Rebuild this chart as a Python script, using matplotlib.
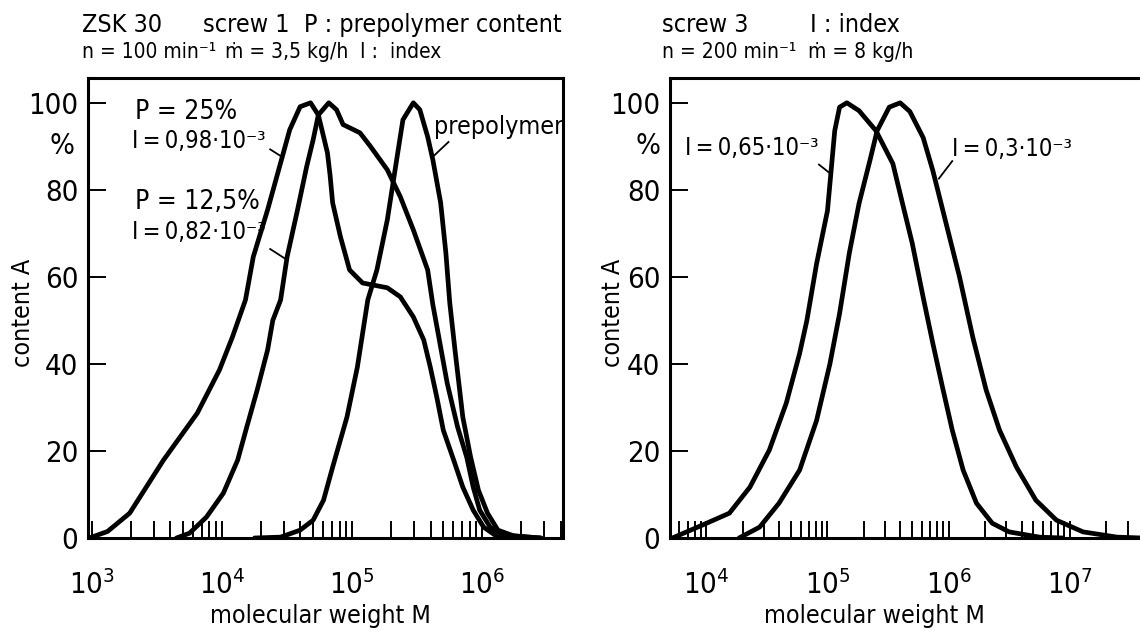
import matplotlib
matplotlib.use('Agg')
import matplotlib.pyplot as plt
import numpy as np
from matplotlib.ticker import LogLocator, FixedLocator, NullFormatter

# log10 of molecular weight M and content A (%) for each curve
# ZSK 30, screw 1
logm_p25 = [2.98, 3.12, 3.29, 3.55, 3.81, 3.98, 4.08, 4.18, 4.24, 4.35, 4.45, 4.52,
            4.60, 4.68, 4.74, 4.81, 4.83, 4.85, 4.91, 4.98, 5.08, 5.27, 5.37, 5.47,
            5.55, 5.60, 5.65, 5.70, 5.78, 5.85, 5.93, 6.01, 6.12, 6.25]
a_p25 = [0, 1.5, 5.7, 17.9, 28.7, 38.6, 46.2, 54.7, 64.6, 75.4, 86.2, 93.8,
         99.1, 100, 97.2, 88.5, 83.4, 77, 69.2, 61.6, 58.6, 57.5, 55.4, 50.8,
         45.5, 39.3, 32.4, 24.8, 17.9, 11.7, 6.4, 2.5, 0.2, 0]

logm_p125 = [3.65, 3.75, 3.88, 4.01, 4.12, 4.19, 4.27, 4.35, 4.39, 4.45, 4.50, 4.58,
             4.65, 4.70, 4.74, 4.82, 4.88, 4.93, 5.06, 5.14, 5.27, 5.37, 5.47, 5.58,
             5.62, 5.66, 5.73, 5.81, 5.88, 5.93, 5.98, 6.06, 6.16, 6.35, 6.45]
a_p125 = [0, 1.1, 4.8, 10.3, 17.9, 25.5, 34, 43.2, 50, 54.7, 64.6, 75.4,
          85.3, 91.5, 97.2, 100, 98.4, 95, 93.1, 90, 84.6, 78.4, 70.8, 61.6,
          53.6, 47.1, 35.6, 25.5, 18.6, 11.7, 6.4, 2.5, 0.7, 0.2, 0]

logm_pre = [4.25, 4.45, 4.60, 4.70, 4.78, 4.85, 4.96, 5.04, 5.12, 5.19, 5.27, 5.35,
            5.39, 5.47, 5.52, 5.58, 5.62, 5.68, 5.72, 5.75, 5.79, 5.85, 5.91, 5.97,
            6.04, 6.12, 6.24, 6.45]
a_pre = [0, 0.2, 1.8, 4.1, 8.7, 16.3, 27.8, 39.3, 54.7, 61.6, 73.1, 88.5,
         96.1, 100, 98.4, 92.2, 86.9, 77, 65.5, 54, 43.2, 27.8, 18.6, 11,
         5.7, 1.8, 0.5, 0]

# screw 3
logm_i065 = [3.72, 3.97, 4.19, 4.36, 4.52, 4.66, 4.77, 4.83, 4.91, 5.00, 5.03, 5.06,
             5.10, 5.16, 5.26, 5.40, 5.54, 5.62, 5.70, 5.79, 5.87, 5.95, 6.03, 6.12,
             6.23, 6.36, 6.50, 6.75, 6.94]
a_i065 = [0, 3, 5.7, 11.7, 20.2, 31, 42.4, 50, 63, 75.2, 84.4, 93.6,
          99, 100, 98.2, 93.6, 86, 76.8, 67.7, 55.3, 44.7, 34.6, 24.8, 15.6,
          8, 3.4, 1.4, 0.2, 0]

logm_i03 = [4.27, 4.44, 4.60, 4.77, 4.91, 5.02, 5.10, 5.18, 5.26, 5.35, 5.41, 5.51,
            5.60, 5.68, 5.79, 5.87, 5.98, 6.09, 6.20, 6.31, 6.42, 6.56, 6.72, 6.89,
            7.11, 7.39, 7.60]
a_i03 = [0, 2.5, 8, 15.6, 27, 40, 51.6, 65.4, 76.8, 86.7, 93.6, 99,
         100, 98, 92, 84.4, 72.2, 60, 46.1, 34, 24.8, 16.3, 8.7, 4.1,
         1.4, 0.2, 0]

y_ticks = [0, 20, 40, 60, 80, 100]

cond = 'DejaVu Sans:stretch=condensed'
plt.rcParams.update({
    'font.family': ['DejaVu Sans'],
    'font.stretch': 'condensed',
    'mathtext.fontset': 'custom',
    'mathtext.rm': cond,
    'mathtext.it': cond,
    'mathtext.bf': cond,
    'mathtext.sf': cond,
    'axes.linewidth': 2.2,
})

W, H = 1140, 631
fig = plt.figure(figsize=(W / 100, H / 100), dpi=100)
TS = '\u2009'  # thin space


def px_axes(x0, x1, y_top, y_bot):
    return fig.add_axes([x0 / W, 1 - y_bot / H, (x1 - x0) / W, (y_bot - y_top) / H])


def style(ax, xlim):
    ax.set_xscale('log')
    ax.set_xlim(*xlim)
    ax.set_ylim(0, 105.7)
    ax.xaxis.set_major_locator(LogLocator(base=10))
    ax.xaxis.set_minor_locator(LogLocator(base=10, subs=np.arange(2, 10)))
    ax.xaxis.set_minor_formatter(NullFormatter())
    ax.yaxis.set_major_locator(FixedLocator(y_ticks))
    ax.tick_params(axis='x', which='both', direction='in', length=12, width=1.4,
                   labelsize=21, pad=23)
    ax.tick_params(axis='y', direction='in', length=13, width=1.4, labelsize=21, pad=7)
    ax.set_xlabel('molecular weight M', fontsize=18)
    ax.set_ylabel('content A', fontsize=18)


def curve(ax, logm, vals):
    ax.plot(10 ** np.array(logm), vals, color='black', lw=3.4,
            solid_joinstyle='round', solid_capstyle='round')


def label(ax, text, xy_text, xy_line0, xy_line1, size=16):
    ax.text(10 ** xy_text[0], xy_text[1], text, fontsize=size, ha='left', va='center')
    ax.plot([10 ** xy_line0[0], 10 ** xy_line1[0]], [xy_line0[1], xy_line1[1]],
            color='black', lw=1.3)


def index_text(v):
    return f'I{TS}={TS}{v}\u00b710\u207b\u00b3'


# left panel
ax1 = px_axes(88, 563, 78, 538)
style(ax1, (10 ** 2.97, 10 ** 6.62))
curve(ax1, logm_p25, a_p25)
curve(ax1, logm_p125, a_p125)
curve(ax1, logm_pre, a_pre)
ax1.text(-0.055, 90, '%', transform=ax1.get_yaxis_transform(), fontsize=21,
         ha='center', va='center')
ax1.yaxis.set_label_coords(-0.112, 0.49)
ax1.xaxis.set_label_coords(0.49, -0.143)
ax1.text(10 ** 3.33, 98, 'P = 25%', fontsize=19, va='center')
label(ax1, index_text('0,98'), (3.31, 91.3), (4.37, 89.3), (4.47, 87.4), size=17)
ax1.text(10 ** 3.33, 77.2, 'P = 12,5%', fontsize=19, va='center')
label(ax1, index_text('0,82'), (3.31, 70.3), (4.37, 66.4), (4.50, 63.9), size=17)
label(ax1, 'prepolymer', (5.63, 94.5), (5.74, 91), (5.62, 87.6), size=18)

# right panel, running off the right edge
ax2 = px_axes(670, 1140, 78, 538)
style(ax2, (10 ** 3.70, 10 ** 7.58))
ax2.spines['right'].set_visible(False)
curve(ax2, logm_i065, a_i065)
curve(ax2, logm_i03, a_i03)
ax2.text(-0.047, 90, '%', transform=ax2.get_yaxis_transform(), fontsize=21,
         ha='center', va='center')
ax2.yaxis.set_label_coords(-0.096, 0.49)
ax2.xaxis.set_label_coords(0.436, -0.143)
label(ax2, index_text('0,65'), (3.82, 89.7), (4.93, 85.8), (5.03, 83.6), size=17)
label(ax2, index_text('0,3'), (6.03, 89.4), (6.03, 86.6), (5.92, 82.6), size=17)

# header lines
fig.text(82 / W, 1 - 32 / H, 'ZSK 30', fontsize=18)
fig.text(203 / W, 1 - 32 / H, 'screw 1  P : prepolymer content', fontsize=18)
fig.text(82 / W, 1 - 58 / H, 'n = 100 min\u207b\u00b9', fontsize=15)
fig.text(225 / W, 1 - 58 / H, '\u1e41 = 3,5 kg/h', fontsize=15)
fig.text(360 / W, 1 - 58 / H, 'I :  index', fontsize=15)
fig.text(662 / W, 1 - 32 / H, 'screw 3', fontsize=18)
fig.text(810 / W, 1 - 32 / H, 'I : index', fontsize=18)
fig.text(662 / W, 1 - 58 / H, 'n = 200 min\u207b\u00b9', fontsize=15)
fig.text(808 / W, 1 - 58 / H, '\u1e41 = 8 kg/h', fontsize=15)

fig.savefig('out.png', dpi=100)
